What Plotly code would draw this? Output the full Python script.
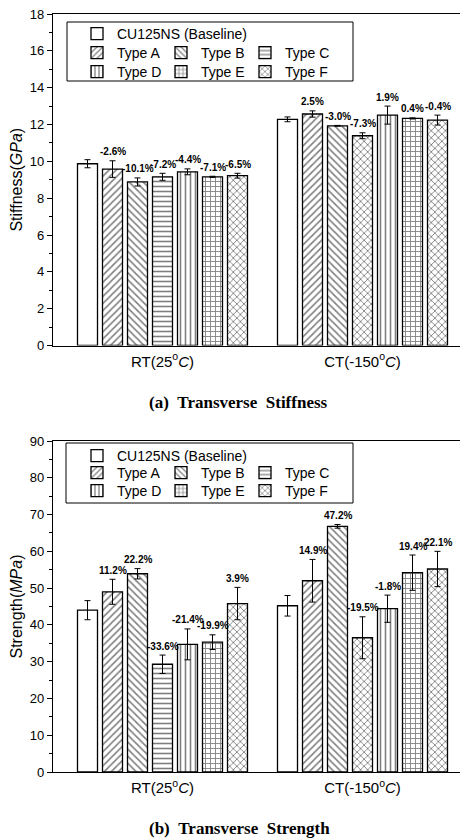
import plotly.graph_objects as go

# ---------------- data ----------------
categories = ["RT", "CT"]
category_labels = ["RT(25<sup>o</sup><i>C</i>)", "CT(-150<sup>o</sup><i>C</i>)"]
series_names = ["CU125NS (Baseline)", "Type A", "Type B", "Type C", "Type D", "Type E", "Type F"]

stiffness_rt = [9.87, 9.58, 8.88, 9.16, 9.43, 9.16, 9.22]
stiffness_ct = [12.28, 12.57, 11.93, 11.39, 12.51, 12.33, 12.24]
stiffness_err_rt = [0.22, 0.45, 0.22, 0.19, 0.16, 0.03, 0.13]
stiffness_err_ct = [0.13, 0.17, 0.02, 0.16, 0.49, 0.03, 0.27]
stiffness_pct_rt = ["", "-2.6%", "-10.1%", "-7.2%", "-4.4%", "-7.1%", "-6.5%"]
stiffness_pct_ct = ["", "2.5%", "-3.0%", "-7.3%", "1.9%", "0.4%", "-0.4%"]

strength_rt = [44.0, 49.0, 53.9, 29.3, 34.7, 35.3, 45.8]
strength_ct = [45.2, 52.0, 66.8, 36.5, 44.4, 54.2, 55.2]
strength_err_rt = [2.6, 3.4, 1.4, 2.5, 4.2, 2.0, 4.4]
strength_err_ct = [2.8, 5.8, 0.5, 5.7, 3.7, 4.8, 4.8]
strength_pct_rt = ["", "11.2%", "22.2%", "-33.6%", "-21.4%", "-19.9%", "3.9%"]
strength_pct_ct = ["", "14.9%", "47.2%", "-19.5%", "-1.8%", "19.4%", "22.1%"]

# ---------------- style ----------------
patterns = [["", ""], ["/", "/"], ["\\", "\\"], ["-", "x"], ["|", "|"], ["+", "+"], ["x", "x"]]
legend_rows_top = ["legend", "legend2", "legend2", "legend2", "legend3", "legend3", "legend3"]
legend_rows_bot = ["legend4", "legend5", "legend5", "legend5", "legend6", "legend6", "legend6"]

PAGE_OFF = 8          # default body margin of the page
W, H = 468 - PAGE_OFF, 838 - PAGE_OFF
BARGAP = 0.125
NSER = len(series_names)
SANS = "Liberation Sans, Arial, sans-serif"
NARROW = "Liberation Sans Narrow, Arial Narrow, Liberation Sans, Arial, sans-serif"
SERIF = "Liberation Serif, Times New Roman, serif"


def px_x(p):
    return (p - PAGE_OFF) / W


def px_y(p):
    return 1 - (p - PAGE_OFF) / H


fig = go.Figure()

panels = [
    ("x", "y", stiffness_rt, stiffness_ct, stiffness_err_rt, stiffness_err_ct,
     stiffness_pct_rt, stiffness_pct_ct, legend_rows_top),
    ("x2", "y2", strength_rt, strength_ct, strength_err_rt, strength_err_ct,
     strength_pct_rt, strength_pct_ct, legend_rows_bot),
]

annotations = []
for xa, ya, rt, ct, ert, ect, prt, pct, lrows in panels:
    for i, name in enumerate(series_names):
        fig.add_trace(go.Bar(
            x=categories,
            y=[rt[i], ct[i]],
            name=name,
            xaxis=xa, yaxis=ya,
            legend=lrows[i],
            error_y=dict(type="data", array=[ert[i], ect[i]], color="black",
                         thickness=1, width=3),
            marker=dict(color="white",
                        line=dict(color="black", width=1.3),
                        pattern=dict(shape=patterns[i], fgcolor="black",
                                     bgcolor="white", size=5, solidity=0.32)),
        ))
        slot = (1 - BARGAP) / NSER
        off = -(1 - BARGAP) / 2 + slot * (i + 0.5)
        for j, (vals, errs, pcts) in enumerate([(rt, ert, prt), (ct, ect, pct)]):
            if pcts[i]:
                annotations.append(dict(
                    x=j + off, y=vals[i] + errs[i], xref=xa, yref=ya,
                    text="<b>" + pcts[i] + "</b>", showarrow=False,
                    yanchor="middle", yshift=9,
                    font=dict(family=NARROW, size=10, color="black"),
                ))

annotations.append(dict(x=px_x(238), y=px_y(403), xref="paper", yref="paper",
                        xanchor="center", yanchor="middle",
                        text="<b>(a)\u00a0\u00a0Transverse\u00a0\u00a0Stiffness</b>", showarrow=False,
                        font=dict(family=SERIF, size=17, color="black")))
annotations.append(dict(x=px_x(239), y=px_y(828), xref="paper", yref="paper",
                        xanchor="center", yanchor="middle",
                        text="<b>(b)\u00a0\u00a0Transverse\u00a0\u00a0Strength</b>", showarrow=False,
                        font=dict(family=SERIF, size=17, color="black")))

xdom = [px_x(53), 1.0]
xrange = [-0.5475, 1.5275]


def xaxis_cfg(anchor):
    return dict(domain=xdom, range=xrange, anchor=anchor, automargin=False,
                tickvals=categories, ticktext=category_labels,
                showline=True, linecolor="black", linewidth=1.3, mirror=True,
                ticks="", ticklabelstandoff=2,
                tickfont=dict(family=SANS, size=15, color="black"),
                showgrid=False, zeroline=False)


def yaxis_cfg(anchor, dom, rng, dtick, title):
    return dict(domain=dom, range=rng, anchor=anchor, dtick=dtick, tick0=0,
                automargin=False, ticklabeloverflow="allow",
                ticks="outside", ticklen=5, tickcolor="black", tickwidth=1,
                minor=dict(dtick=dtick / 2, ticks="outside", ticklen=3,
                           tickcolor="black"),
                showline=True, linecolor="black", linewidth=1.3, mirror=False,
                tickfont=dict(family=SANS, size=13, color="black"),
                title=dict(text=title, standoff=8,
                           font=dict(family=SANS, size=16, color="black")),
                showgrid=False, zeroline=False)


def leg(xp, yp, entry=None):
    d = dict(x=px_x(xp), y=px_y(yp), xanchor="left", yanchor="middle",
             orientation="h", bgcolor="rgba(0,0,0,0)", borderwidth=0,
             font=dict(family=SANS, size=14, color="black"),
             traceorder="normal")
    if entry is not None:
        d["entrywidth"] = entry
        d["entrywidthmode"] = "pixels"
    return d


fig.update_layout(
    width=W, height=H,
    margin=dict(l=0, r=0, t=0, b=0, autoexpand=False),
    paper_bgcolor="white", plot_bgcolor="white",
    barmode="group", bargap=BARGAP, bargroupgap=0.2,
    showlegend=True,
    xaxis=xaxis_cfg("y"),
    yaxis=yaxis_cfg("x", [px_y(345.5), px_y(14)], [0, 18], 2,
                    "Stiffness(<i>GPa</i>)"),
    xaxis2=xaxis_cfg("y2"),
    yaxis2=yaxis_cfg("x2", [px_y(772), px_y(441)], [0, 90], 10,
                     "Strength(<i>MPa</i>)"),
    legend=leg(77, 34),
    legend2=leg(77, 53, 39),
    legend3=leg(77, 72, 39),
    legend4=leg(77, 456),
    legend5=leg(77, 473, 39),
    legend6=leg(77, 491, 39),
    annotations=annotations,
    shapes=[
        dict(type="rect", xref="paper", yref="paper",
             x0=px_x(67), x1=px_x(353), y0=px_y(81), y1=px_y(22),
             line=dict(color="black", width=1), fillcolor="rgba(0,0,0,0)"),
        dict(type="rect", xref="paper", yref="paper",
             x0=px_x(66), x1=px_x(353), y0=px_y(503), y1=px_y(443),
             line=dict(color="black", width=1), fillcolor="rgba(0,0,0,0)"),
    ],
)

fig.write_html("out.html")
